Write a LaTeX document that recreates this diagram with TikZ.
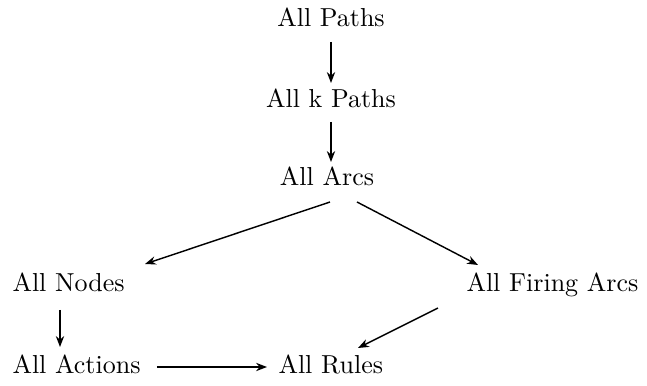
\documentclass[tikz,border=0pt]{standalone}
\usetikzlibrary{arrows.meta,calc}
\begin{document}
\begin{tikzpicture}[x=0.3846pt,y=-0.3846pt,
  lbl/.style={inner sep=0pt,text height=7pt,text depth=2pt},
  arr/.style={line width=0.55pt,-{Stealth[length=4.2pt,width=3.2pt]}}]
\useasboundingbox (0,0) rectangle (647,386);
\node[lbl,anchor=base] (paths) at (331,27) {All Paths};
\node[lbl,anchor=base] (kpaths) at (331,108) {All k Paths};
\node[lbl,anchor=base] (arcs) at (327,186) {All Arcs};
\node[lbl,anchor=base west] (nodes) at (12,292) {All Nodes};
\node[lbl,anchor=base west] (firing) at (466,292) {All Firing Arcs};
\node[lbl,anchor=base west] (actions) at (12,374) {All Actions};
\node[lbl,anchor=base west] (rules) at (278,374) {All Rules};
\draw[arr] ($(paths.base)+(0,15)$) -- ($(kpaths.base)+(0,-25)$);
\draw[arr] ($(kpaths.base)+(0,14)$) -- ($(kpaths.base |- arcs.base)+(0,-24)$);
\draw[arr] ($(arcs.base)+(3,16)$) -- ($(nodes.base west)+(133,-28)$);
\draw[arr] ($(arcs.base)+(30,16)$) -- ($(firing.base west)+(12,-27)$);
\draw[arr] ($(nodes.base west)+(48,18)$) -- ($(actions.base west)+(48,-27)$);
\draw[arr] ($(firing.base west)+(-28,16)$) -- ($(rules.base west)+(80,-26)$);
\draw[arr] ($(actions.base west)+(145,-7)$) -- ($(rules.base west)+(-11,-7)$);
\end{tikzpicture}
\end{document}
